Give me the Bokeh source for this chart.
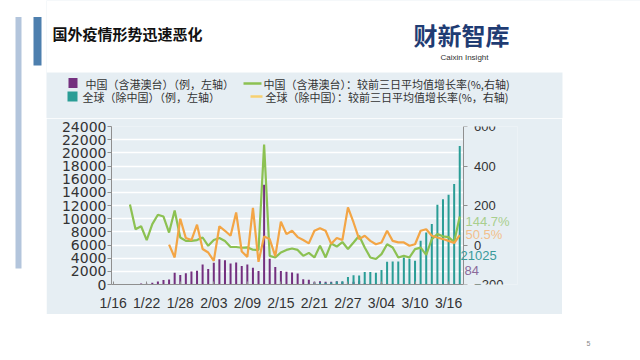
from bokeh.plotting import figure
from bokeh.layouts import column, row
from bokeh.models import Range1d, LinearAxis, FixedTicker, Label, ColumnDataSource, Spacer
from bokeh.embed import file_html
from bokeh.resources import INLINE

# ---------------- data ----------------
title_text = "国外疫情形势迅速恶化"
logo_text = "财新智库"
logo_sub = "Caixin Insight"
legend_texts = ["中国（含港澳台）（例，左轴）",
                "全球（除中国）（例，左轴）",
                "中国（含港澳台）：较前三日平均值增长率(%,右轴)",
                "全球（除中国）：较前三日平均值增长率(%，右轴)"]

days = list(range(63))  # 1/16 ... 3/18
tick_days = [0, 6, 12, 18, 24, 30, 36, 42, 48, 54, 60]
tick_labels = ["1/16", "1/22", "1/28", "2/03", "2/09", "2/15", "2/21", "2/27", "3/04", "3/10", "3/16"]

china_cases = [4, 17, 59, 77, 77, 150, 130, 260, 440, 690,
               760, 1800, 1450, 1720, 1970, 2100, 3050, 2350, 3300, 3850,
               3700, 3200, 3350, 2800, 3050, 2550, 2050, 15150, 3900, 2650,
               2050, 1950, 1820, 1680, 800, 720, 400, 500, 400, 420,
               480, 430, 330, 430, 570, 200, 125, 120, 140, 145,
               100, 45, 40, 20, 25, 15, 10, 12, 20, 16,
               22, 15, 84]
world_cases = [0, 1, 1, 2, 2, 3, 4, 5, 7, 10,
               5, 8, 10, 10, 20, 15, 10, 20, 25, 30,
               20, 25, 30, 40, 30, 50, 40, 70, 60, 80,
               40, 60, 50, 70, 90, 130, 200, 250, 280, 300,
               450, 480, 1150, 1400, 1350, 1900, 1900, 1800, 2200, 3450,
               3500, 3500, 4100, 3900, 3600, 6650, 7900, 9200, 12100, 12950,
               13650, 15250, 21025]

china_rate_days = list(range(3, 63))   # from 1/19
china_rate = [205, 80, 95, 25, 106, 153, 144, 63, 175, 38,
              21, 21, 25, 38, -4, 25, 35, 20, -10, -10,
              -14, -12, -24, -25, 508, -55, -63, -38, -25, -18,
              -25, -55, -40, -63, -4, -63, 8, -8, 15, -20,
              13, 47, -13, -63, -71, -46, 4, -13, -63, -55,
              -63, -21, -13, -50, 30, 55, 44, 40, 15, 144.7]
world_rate_days = list(range(10, 63))  # from 1/26
world_rate = [2, -63, 133, 35, 25, 103, -20, -38, -80, 95,
              72, 47, 165, -33, -60, 188, -85, 43, 30, -57,
              118, 55, 72, 40, 25, 8, 72, 85, 72, 6,
              35, 25, 190, 114, 30, 47, 21, 4, 13, 72,
              21, 13, 13, -4, 4, 72, 80, 47, 38, 30,
              21, 10, 50.5]

left_ticks = [0, 2000, 4000, 6000, 8000, 10000, 12000, 14000, 16000, 18000, 20000, 22000, 24000]
right_ticks = [-200, 0, 200, 400, 600]
end_labels = ["144.7%", "50.5%", "21025", "84"]

# ---------------- style ----------------
PURPLE = "#74307f"
TEAL = "#2a9d96"
GREEN = "#8cc152"
ORANGE = "#f3a545"
PANEL = "#e6eef3"
LIGHTBAR = "#b3c5dc"
DARKBAR = "#4d7fae"
CJK = "Noto Sans CJK SC"
SANS = "Liberation Sans"


def deco_fig(w, h, x0, y0, fill="white"):
    f = figure(width=w, height=h, output_backend="svg", toolbar_location=None, title=None,
               x_range=Range1d(x0, x0 + w), y_range=Range1d(y0 + h, y0),
               x_axis_type=None, y_axis_type=None,
               min_border=0, min_border_left=0, min_border_right=0,
               min_border_top=0, min_border_bottom=0)
    f.outline_line_color = None
    f.background_fill_color = fill
    f.border_fill_color = fill
    return f


def txt(f, x, y, s, size, color, font=SANS, align="left", style="normal"):
    f.add_layout(Label(x=x, y=y, text=s, text_font=font, text_font_size=size, text_color=color,
                       text_align=align, text_baseline="middle", text_font_style=style))


def rect(f, l, r, t, b, color):
    f.quad(left=[l], right=[r], top=[t], bottom=[b], fill_color=color, line_color=None)


# ---------- left strip with the decorative bars (full height) ----------
left = deco_fig(46, 360, 0, 0)
rect(left, 15, 21, 16.5, 268, LIGHTBAR)
rect(left, 33, 41, 16.5, 65, DARKBAR)

# ---------- header (title, logo, legend); panel colour as base ----------
head = deco_fig(594, 118, 46, 0, fill=PANEL)
rect(head, 46, 640, 0, 72, "white")
rect(head, 562, 640, 71, 118, "white")
txt(head, 52, 32.5, title_text, "15px", "#111111", font=CJK, style="bold")
txt(head, 461, 34, logo_text, "24px", "#1f3c73", font=CJK, align="center", style="bold")
txt(head, 464, 57, logo_sub, "8px", "#333333", align="center")

rect(head, 68, 77, 77.5, 87.5, PURPLE)
txt(head, 85, 83, legend_texts[0], "11px", "#333333", font=CJK)
rect(head, 67, 77, 91, 101, TEAL)
txt(head, 82, 96, legend_texts[1], "11px", "#333333", font=CJK)
head.segment(x0=[243], x1=[261], y0=[83], y1=[83], line_color=GREEN, line_width=2.5)
txt(head, 263, 83, legend_texts[2], "11px", "#333333", font=CJK)
head.segment(x0=[250], x1=[262], y0=[96], y1=[96], line_color="#f7d070", line_width=2.5)
txt(head, 265, 96, legend_texts[3], "11px", "#333333", font=CJK)

# ---------- chart ----------
p = figure(width=516, height=196, output_backend="svg", toolbar_location=None, title=None,
           x_range=Range1d(-0.3, 72.33), y_range=Range1d(0, 24000),
           min_border_left=65, min_border_right=45, min_border_top=8, min_border_bottom=30)
p.extra_y_ranges = {"rate": Range1d(-200, 600)}
p.outline_line_color = None
p.border_fill_color = PANEL
p.background_fill_color = PANEL

p.xgrid.visible = False
p.ygrid.ticker = FixedTicker(ticks=left_ticks)
p.ygrid.grid_line_color = "white"
p.ygrid.grid_line_width = 1.6
p.ygrid.cross_bounds = (-0.3, 62.6)

p.yaxis.ticker = FixedTicker(ticks=left_ticks)
p.yaxis.axis_line_color = "#8f8f8f"
p.yaxis.major_tick_line_color = "#8f8f8f"
p.yaxis.major_tick_out = 4
p.yaxis.major_tick_in = 0
p.yaxis.minor_tick_line_color = None
p.yaxis.major_label_standoff = 1
p.yaxis.major_label_text_font = "DejaVu Sans"
p.yaxis.major_label_text_font_size = "14px"
p.yaxis.major_label_text_color = "#333333"

p.xaxis.ticker = FixedTicker(ticks=tick_days)
p.xaxis.major_label_overrides = dict(zip(tick_days, tick_labels))
p.xaxis.bounds = (-0.3, 62.6)
p.xaxis.axis_line_color = "#8f8f8f"
p.xaxis.major_tick_line_color = "#8f8f8f"
p.xaxis.major_tick_in = 3
p.xaxis.major_tick_out = 0
p.xaxis.minor_tick_line_color = None
p.xaxis.major_label_standoff = 10
p.xaxis.major_label_text_font = SANS
p.xaxis.major_label_text_font_size = "14px"
p.xaxis.major_label_text_color = "#333333"

ra = LinearAxis(y_range_name="rate", ticker=FixedTicker(ticks=right_ticks), fixed_location=62.6,
                major_label_overrides={-200: "−200"})
ra.axis_line_color = "#8f8f8f"
ra.major_tick_line_color = "#8f8f8f"
ra.major_tick_out = 4
ra.major_tick_in = 0
ra.minor_tick_line_color = None
ra.major_label_standoff = 7
ra.major_label_text_font = SANS
ra.major_label_text_font_size = "13px"
ra.major_label_text_color = "#333333"
p.add_layout(ra, "right")

src = ColumnDataSource(dict(day=days, china=china_cases, world=world_cases))
p.vbar(x="day", top="china", width=0.36, bottom=0, fill_color=PURPLE, line_color=None, source=src)
p.vbar(x="day", top="world", width=0.36, bottom=0, fill_color=TEAL, line_color=None, source=src)

p.line(china_rate_days, china_rate, y_range_name="rate", line_color=GREEN, line_width=2.2)
p.line(world_rate_days, world_rate, y_range_name="rate", line_color=ORANGE, line_width=2.2)

# end value labels (screen units relative to the frame: frame left = 111, frame bottom = 284)
for s, X, Y, col in [(end_labels[0], 465, 221, "#a9cf8e"), (end_labels[1], 465, 234, "#f2bf8c"),
                     (end_labels[2], 460, 255, "#3a9a9a"), (end_labels[3], 464, 270, "#8a6a9a")]:
    p.add_layout(Label(x=X - 111, y=284 - Y, x_units="screen", y_units="screen", text=s,
                       text_font=SANS, text_font_size="13px", text_color=col,
                       text_align="left", text_baseline="middle"))

right = Spacer(width=78, height=196)

# ---------- bottom ----------
bottom = deco_fig(594, 46, 46, 314)
txt(bottom, 588, 343, "5", "7px", "#888888", align="center")

layout = row(left, column(head, row(p, right), bottom))
open("out.html", "w").write(file_html(layout, INLINE))
